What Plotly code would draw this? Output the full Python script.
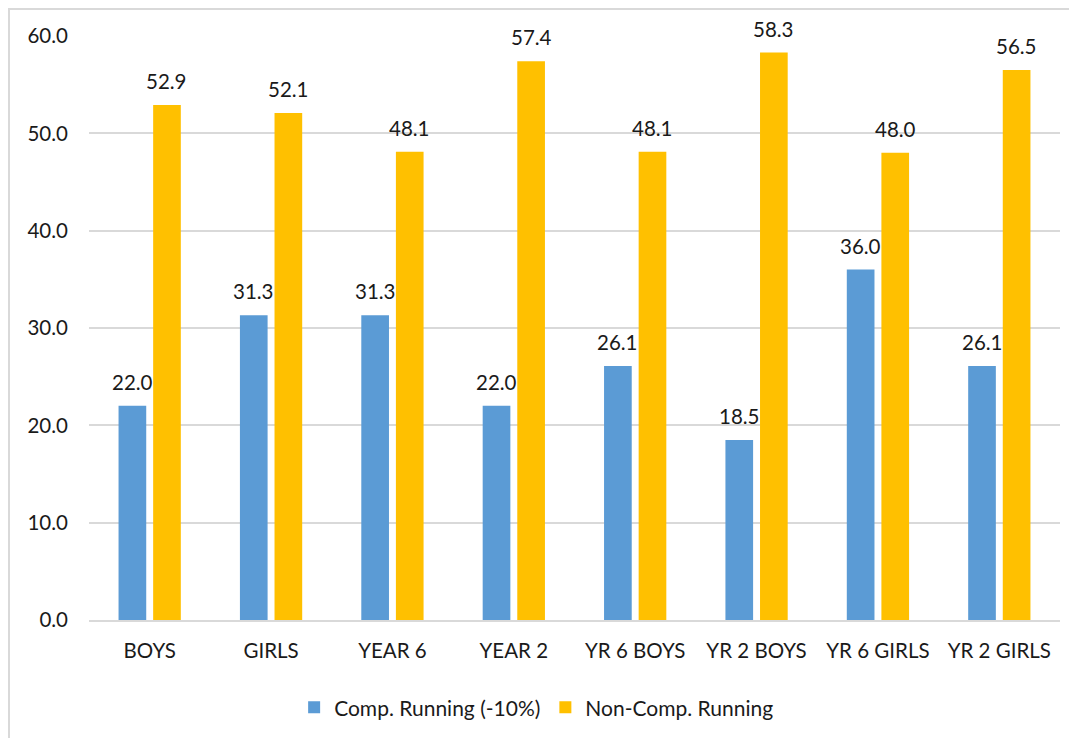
import plotly.graph_objects as go

categories = ["BOYS", "GIRLS", "YEAR 6", "YEAR 2", "YR 6 BOYS", "YR 2 BOYS", "YR 6 GIRLS", "YR 2 GIRLS"]
comp_running = [22.0, 31.3, 31.3, 22.0, 26.1, 18.5, 36.0, 26.1]
non_comp_running = [52.9, 52.1, 48.1, 57.4, 48.1, 58.3, 48.0, 56.5]
series_names = ["Comp. Running (-10%)", "Non-Comp. Running"]
colors = ["#5B9BD5", "#FFC000"]
y_ticks = [0, 10, 20, 30, 40, 50, 60]

FONT = "Lato"
FS = 20.5
TXT = "#1a1a1a"

fig = go.Figure()
for name, vals, col in zip(series_names, [comp_running, non_comp_running], colors):
    fig.add_trace(go.Bar(x=categories, y=vals, name=name, marker=dict(color=col, line=dict(width=0))))

annotations = []
for vals, shift in [(comp_running, -17.3), (non_comp_running, 17.3)]:
    for c, v in zip(categories, vals):
        annotations.append(dict(x=c, y=v, xref="x", yref="y", text=f"{v:.1f}", showarrow=False,
                                xshift=shift, yshift=10, yanchor="bottom",
                                font=dict(family=FONT, size=FS, color=TXT)))

# page body has an 8px offset; figure sized so screenshot coords match
W, H = 1069, 730
L, T, R, B = 81, 28, 17, 118
pw, ph = W - L - R, H - T - B

fig.update_layout(
    width=W, height=H,
    margin=dict(l=L, r=R, t=T, b=B, autoexpand=False),
    paper_bgcolor="white", plot_bgcolor="white",
    barmode="group", bargap=0.43, bargroupgap=0.2,
    font=dict(family=FONT, size=FS, color=TXT),
    showlegend=True,
    legend=dict(orientation="h", x=0.461, xanchor="center", y=-0.115, yanchor="top",
                font=dict(family=FONT, size=21, color=TXT), itemwidth=30, traceorder="normal"),
    annotations=annotations,
    shapes=[dict(type="rect", xref="paper", yref="paper",
                 x0=(1 - L) / pw, x1=(W + 20 - L) / pw,
                 y0=-(B + 20) / ph, y1=(ph + T - 1) / ph,
                 line=dict(color="#d9d9d9", width=2), fillcolor="rgba(0,0,0,0)", layer="below")],
)
fig.update_xaxes(showgrid=False, showline=True, linecolor="#d9d9d9", linewidth=1.5, ticks="",
                 tickfont=dict(family=FONT, size=FS, color=TXT), ticklabelstandoff=12)
fig.update_yaxes(range=[0, 60], tickvals=y_ticks, tickformat=".1f", showgrid=True,
                 gridcolor="#d9d9d9", gridwidth=1.5, zeroline=False, showline=False, ticks="",
                 tickfont=dict(family=FONT, size=FS, color=TXT), ticklabelstandoff=20)

fig.write_html("out.html")
